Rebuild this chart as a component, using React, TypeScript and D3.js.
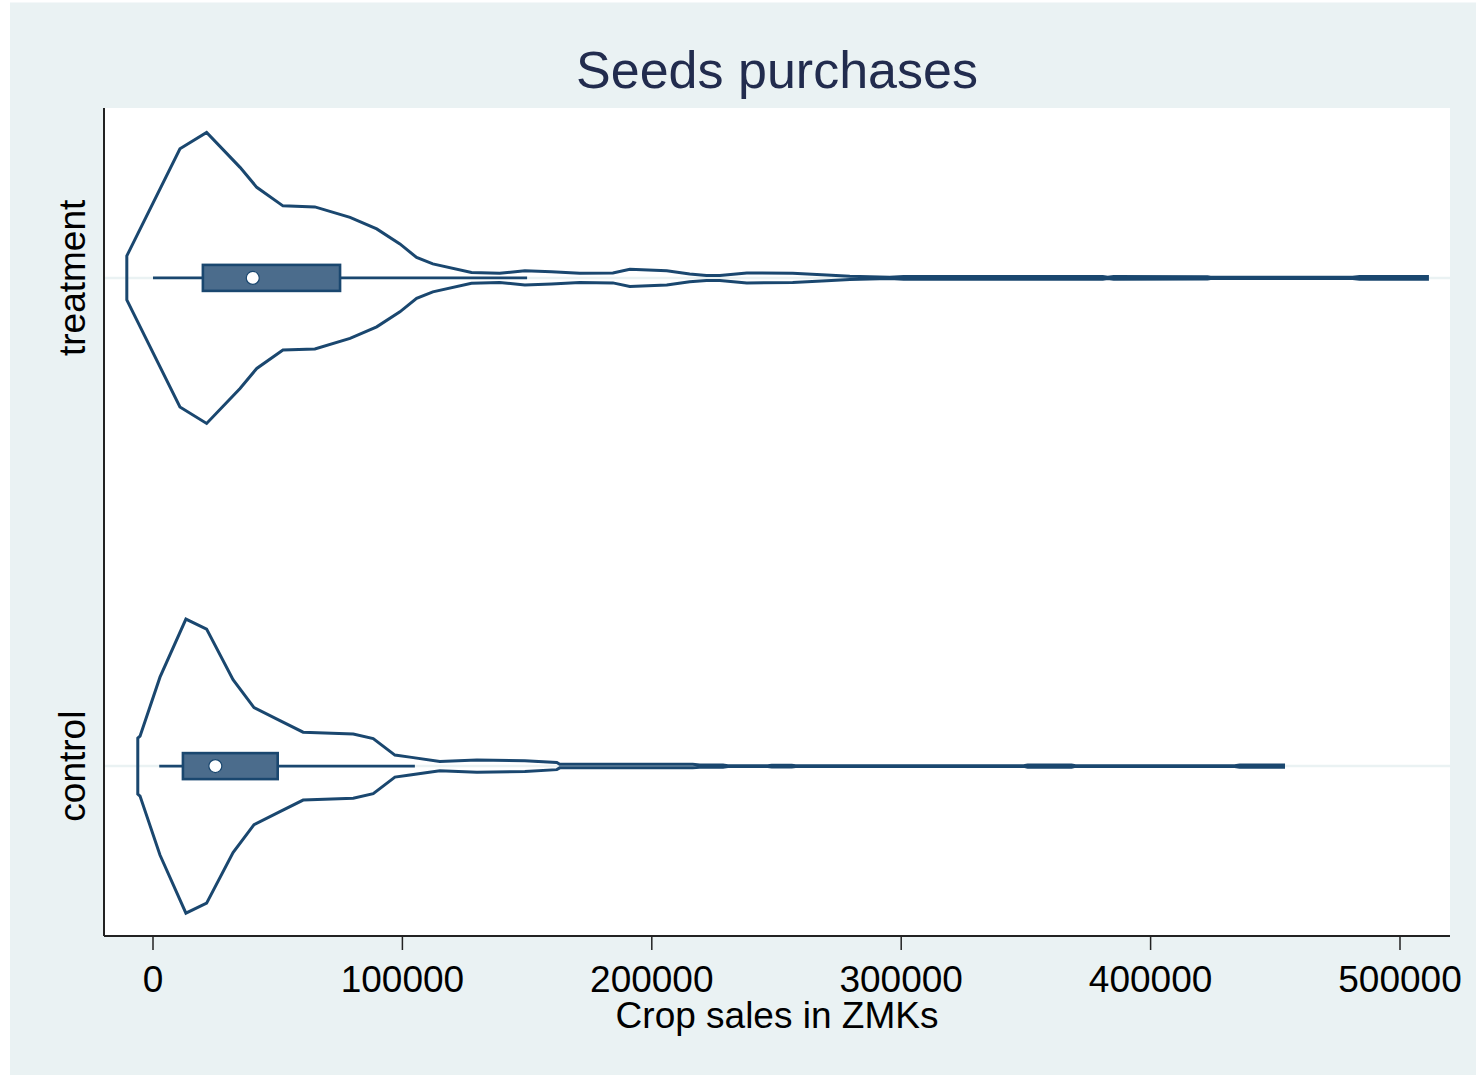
import React from "react";
import * as d3 from "d3";

const categories = ["treatment", "control"];

// density curves: [crop sales (ZMK), relative density]
const treatmentDensity: [number, number][] = [
  [-10500, 0.15], [10800, 0.878], [21500, 0.99], [34900, 0.752], [41600, 0.616],
  [52100, 0.49], [64900, 0.483], [79000, 0.412], [89700, 0.333], [99000, 0.231],
  [105700, 0.139], [112200, 0.095], [127700, 0.037], [139000, 0.031], [149100, 0.048],
  [159800, 0.041], [171100, 0.031], [184400, 0.034], [191200, 0.058], [206000, 0.048],
  [215200, 0.027], [221900, 0.017], [227300, 0.017], [238100, 0.034], [256500, 0.031],
  [270100, 0.02], [279400, 0.011], [295400, 0.004], [301000, 0.01], [380800, 0.01],
  [382800, 0.004], [385200, 0.01], [422800, 0.008], [424000, 0.004], [481000, 0.004],
  [483800, 0.01], [511000, 0.01],
];

const controlDensity: [number, number][] = [
  [-6100, 0.19], [-5200, 0.204], [2800, 0.605], [13200, 1.0], [21500, 0.932],
  [32100, 0.588], [40500, 0.398], [50900, 0.31], [60200, 0.231], [80300, 0.218],
  [88300, 0.187], [97000, 0.075], [103000, 0.061], [115000, 0.031], [129900, 0.041],
  [149100, 0.037], [161900, 0.024], [163100, 0.012], [216400, 0.012], [219200, 0.008],
  [228500, 0.008], [230500, 0.002], [246500, 0.002], [248100, 0.006], [256100, 0.006],
  [257700, 0.002], [349100, 0.002], [350700, 0.007], [368300, 0.007], [369900, 0.002],
  [433700, 0.002], [435700, 0.007], [453300, 0.007],
];

// box stats: [lower whisker, q1, median, q3, upper whisker]
const treatmentBox = [0, 20000, 40000, 75000, 150000];
const controlBox = [2500, 12000, 25000, 50000, 105000];

const xTicks = [0, 100000, 200000, 300000, 400000, 500000];

const W = 1476;
const H = 1077;
const plot = { left: 104, right: 1450, top: 108, bottom: 936 };

const NAVY = "#1a476f";
const BOXFILL = "#4b6c8c";
const BG = "#eaf2f3";

export default function App() {
  const x = d3.scaleLinear().domain([0, 500000]).range([153, 1400]);
  const y = d3
    .scalePoint<string>()
    .domain(categories)
    .range([plot.top, plot.bottom])
    .padding(0.348);
  const w = d3.scaleLinear().domain([0, 1]).range([0, 147]);

  const groups = [
    { name: "treatment", dens: treatmentDensity, box: treatmentBox },
    { name: "control", dens: controlDensity, box: controlBox },
  ];

  const font = "'Liberation Sans', Arial, sans-serif";

  return (
    <svg
      width={W}
      height={H}
      style={{ position: "absolute", left: 0, top: 0, background: "#fff" }}
    >
      <rect x={10} y={2.5} width={W - 10} height={1072.5} fill={BG} />
      <rect
        x={plot.left}
        y={plot.top}
        width={plot.right - plot.left}
        height={plot.bottom - plot.top}
        fill="#fff"
      />
      <text
        x={777}
        y={88}
        textAnchor="middle"
        fontFamily={font}
        fontSize={52}
        fill="#222c4e"
      >
        Seeds purchases
      </text>

      {groups.map((g) => {
        const cy = y(g.name)!;
        const area = d3
          .area<[number, number]>()
          .x((d) => x(d[0]))
          .y0((d) => cy + w(d[1]))
          .y1((d) => cy - w(d[1]))
          .curve(d3.curveLinear);
        const [lw, q1, med, q3, uw] = g.box;
        return (
          <g key={g.name}>
            <line
              x1={plot.left}
              x2={plot.right}
              y1={cy}
              y2={cy}
              stroke={BG}
              strokeWidth={2.5}
            />
            <path
              d={area(g.dens)!}
              fill="none"
              stroke={NAVY}
              strokeWidth={3}
              strokeLinejoin="miter"
            />
            <line x1={x(lw)} x2={x(uw)} y1={cy} y2={cy} stroke={NAVY} strokeWidth={2.6} />
            <rect
              x={x(q1)}
              y={cy - 13}
              width={x(q3) - x(q1)}
              height={26}
              fill={BOXFILL}
              stroke={NAVY}
              strokeWidth={2.6}
            />
            <circle cx={x(med)} cy={cy} r={6.5} fill="#fff" stroke={NAVY} strokeWidth={1.2} />
            <text
              transform={`translate(85,${cy}) rotate(-90)`}
              textAnchor="middle"
              fontFamily={font}
              fontSize={37}
              fill="#000"
            >
              {g.name}
            </text>
          </g>
        );
      })}

      <line x1={plot.left} x2={plot.left} y1={plot.top} y2={plot.bottom} stroke="#222" strokeWidth={2} />
      <line x1={plot.left} x2={plot.right} y1={plot.bottom} y2={plot.bottom} stroke="#222" strokeWidth={2} />
      {xTicks.map((t) => (
        <g key={t}>
          <line x1={x(t)} x2={x(t)} y1={plot.bottom} y2={plot.bottom + 14} stroke="#222" strokeWidth={1.5} />
          <text
            x={x(t)}
            y={992}
            textAnchor="middle"
            fontFamily={font}
            fontSize={37}
            fill="#000"
          >
            {t}
          </text>
        </g>
      ))}
      <text x={777} y={1028} textAnchor="middle" fontFamily={font} fontSize={37} fill="#000">
        Crop sales in ZMKs
      </text>
    </svg>
  );
}
